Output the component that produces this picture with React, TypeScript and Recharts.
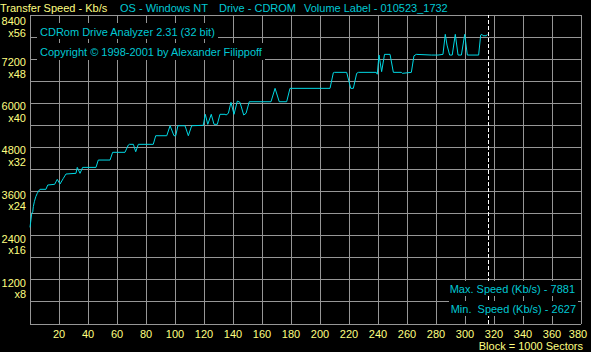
import { CartesianGrid, Line, LineChart, ReferenceLine, XAxis, YAxis } from "recharts";

const blocks = [
  0, 1.2, 1.9, 2.3, 3, 4, 5, 6.4, 6.9, 11, 12.2, 17, 18.8, 20.7, 23, 24.8, 31.7, 32.6,
  34.5, 36.3, 45.5, 47.1, 55.2, 57, 65.5, 67.8, 68.5, 71.3, 72.9, 74.7, 85, 86.7, 94.3,
  96.6, 99.3, 100.5, 102, 106.9, 109.2, 111.5, 119.5, 120.9, 122.6, 125, 126.9, 129.2,
  131, 134.5, 135.2, 136.8, 138.6, 140.7, 143, 144.8, 147.4, 149, 151.2, 166.2, 169,
  171.9, 177, 179.3, 206.9, 209.2, 210, 218.4, 221.2, 223, 225.3, 226.5, 238.8, 239.5,
  240.7, 242.5, 244.5, 248.3, 250.6, 256.1, 256.8, 263, 264.8, 266.4, 276.8, 281.4,
  284.8, 286.4, 287.6, 289.4, 291.2, 293.3, 295.2, 297.5, 299.8, 301.6, 309.4, 310.8,
  311.7, 312.4, 314.7, 315.4,
];
const speeds = [
  2627, 3009, 3050, 3190, 3324, 3460, 3551, 3642, 3661, 3661, 3778, 3797, 3932, 3805,
  3960, 4077, 4096, 4257, 4096, 4257, 4257, 4457, 4457, 4667, 4667, 4865, 4884, 4884,
  4683, 4884, 4884, 5118, 5118, 5390, 5118, 5118, 5390, 5390, 5118, 5390, 5401, 5700,
  5428, 5700, 5428, 5428, 5700, 5700, 5681, 5727, 6026, 5700, 6061, 6026, 5681, 5727,
  6042, 6042, 6406, 6042, 6042, 6406, 6406, 6830, 6841, 6841, 6406, 6406, 6814, 6841,
  6841, 6790, 7311, 6860, 7330, 7330, 6841, 6841, 6814, 6841, 7290, 7330, 7311, 7311,
  7330, 7874, 7583, 7311, 7311, 7874, 7311, 7311, 7874, 7311, 7311, 7855, 7874, 7836,
  7836, 7874,
];

const xTicks = [0, 20, 40, 60, 80, 100, 120, 140, 160, 180, 200, 220, 240, 260, 280, 300, 320, 340, 360, 380];
const yTicks = [0, 600, 1200, 1800, 2400, 3000, 3600, 4200, 4800, 5400, 6000, 6600, 7200, 7800, 8400];
const discEnd = 316;
const maxSpeed = 7881;
const minSpeed = 2627;

const data = blocks.map((b, i) => ({ block: b, speed: speeds[i] }));

const YELLOW = "#ffff80";
const CYAN = "#00c8d4";
const FONT = "'Liberation Sans', Arial, sans-serif";

function YTick({ y, payload }: any) {
  const v = payload.value;
  if (v === 0 || v % 1200 !== 0) return null;
  const top = v === 8400;
  return (
    <g>
      <text x={26} y={y + (top ? 10 : 7)} textAnchor="end" fill={YELLOW} fontSize={11} fontFamily={FONT}>
        {v}
      </text>
      <text x={26} y={y + (top ? 21.5 : 18.5)} textAnchor="end" fill={YELLOW} fontSize={11} fontFamily={FONT}>
        {"x" + v / 150}
      </text>
    </g>
  );
}

function XTick({ x, y, payload }: any) {
  const v = payload.value;
  if (v === 0) return null;
  return (
    <text x={v === 380 ? x - 3 : x} y={y + 6} textAnchor="middle" fill={YELLOW} fontSize={11} fontFamily={FONT}>
      {v}
    </text>
  );
}

const label = (extra: any) => ({
  position: "absolute" as const,
  fontFamily: FONT,
  fontSize: 11,
  lineHeight: "12px",
  whiteSpace: "pre" as const,
  ...extra,
});

export default function App() {
  return (
    <div style={{ position: "relative", width: 591, height: 352, background: "#000", overflow: "hidden" }}>
      <style>{`body{margin:0;background:#000}`}</style>
      <LineChart width={591} height={352} data={data} margin={{ top: 15, right: 10, left: 0, bottom: 0 }}>
        <CartesianGrid stroke="#969696" strokeWidth={1} shapeRendering="crispEdges" />
        <XAxis
          dataKey="block"
          type="number"
          domain={[0, 380]}
          ticks={xTicks}
          height={28}
          axisLine={false}
          tickLine={false}
          tick={<XTick />}
          interval={0}
        />
        <YAxis
          type="number"
          domain={[0, 8400]}
          ticks={yTicks}
          width={30}
          axisLine={false}
          tickLine={false}
          tick={<YTick />}
          interval={0}
        />
        <ReferenceLine x={discEnd} stroke="#ffffff" strokeDasharray="4 2" shapeRendering="crispEdges" />
        <Line
          dataKey="speed"
          type="linear"
          stroke="#00d8e4"
          strokeWidth={1}
          dot={false}
          isAnimationActive={false}
        />
      </LineChart>

      <div style={label({ left: 0, top: 1.5, color: YELLOW })}>Transfer Speed - Kb/s</div>
      <div style={label({ left: 120, top: 1.5, color: CYAN })}>OS - Windows NT</div>
      <div style={label({ left: 219, top: 1.5, color: CYAN })}>Drive - CDROM</div>
      <div style={label({ left: 304, top: 1.5, color: CYAN })}>Volume Label - 010523_1732</div>

      <div style={label({ left: 37, top: 23, color: CYAN, background: "#000", padding: "3px 3px 1px" })}>
        CDRom Drive Analyzer 2.31 (32 bit)
      </div>
      <div style={label({ left: 37, top: 43, color: CYAN, background: "#000", padding: "3px 3px 2px" })}>
        Copyright © 1998-2001 by Alexander Filippoff
      </div>

      <div style={label({ right: 14, top: 281, color: CYAN, background: "#000", padding: "2px 2px 1px" })}>
        {"Max. Speed (Kb/s) - " + maxSpeed}
      </div>
      <div style={label({ right: 13, top: 301, color: CYAN, background: "#000", padding: "2px 2px 1px" })}>
        {"Min.  Speed (Kb/s) - " + minSpeed}
      </div>
      <div style={label({ right: 8, top: 340, color: YELLOW })}>Block = 1000 Sectors</div>
    </div>
  );
}
